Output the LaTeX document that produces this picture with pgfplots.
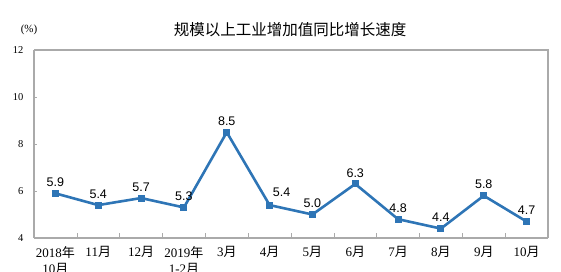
\documentclass[border=0pt]{standalone}
\usepackage{fontspec}
\setmainfont{Liberation Serif}
\newfontfamily\cjk{Noto Sans CJK SC}
\newfontfamily\arial{Liberation Sans}
\usepackage{pgfplots}
\pgfplotsset{compat=1.18}
\definecolor{lineblue}{RGB}{46,117,182}
\definecolor{framegray}{RGB}{170,170,170}
\begin{document}
\begin{tikzpicture}[x=1pt,y=1pt]
\begin{axis}[
  scale only axis,
  width=514pt, height=188pt,
  at={(0,0)}, anchor=south west,
  xmin=-0.5, xmax=11.5, ymin=4, ymax=12,
  axis line style={framegray, line width=1.2pt},
  xtick={0,...,11},
  xticklabels={2018{\cjk 年}\\10{\cjk 月}, 11{\cjk 月}, 12{\cjk 月}, 2019{\cjk 年}\\1-2{\cjk 月}, 3{\cjk 月}, 4{\cjk 月}, 5{\cjk 月}, 6{\cjk 月}, 7{\cjk 月}, 8{\cjk 月}, 9{\cjk 月}, 10{\cjk 月}},
  major x tick style={draw=none},
  minor xtick={0.5,1.5,...,10.5},
  minor tick length=5pt,
  minor x tick style={framegray, line width=0.6pt},
  xticklabel style={font=\fontsize{13}{16}\selectfont, align=center, anchor=north, yshift=-5pt},
  ytick={4,6,8,10,12},
  major y tick style={framegray, line width=0.6pt},
  major tick length=3pt,
  tick align=inside,
  yticklabel style={font=\fontsize{10.5}{12}\selectfont, xshift=-7pt},
  /pgf/number format/assume math mode=true,
  axis x line*=bottom, axis y line*=left,
  clip=false,
  every node near coord/.append style={font=\arial\fontsize{12.5}{14}\selectfont, black, anchor=south, yshift=2pt},
  point meta=explicit symbolic,
]
\addplot[color=lineblue, line width=2.6pt, mark=square*, mark size=2.2pt, mark options={solid},
  nodes near coords]
  table[meta=label] {
x y label
0 5.9 5.9
1 5.4 5.4
2 5.7 5.7
3 5.3 5.3
4 8.5 8.5
5 5.4 {}
6 5.0 5.0
7 6.3 6.3
8 4.8 4.8
9 4.4 4.4
10 5.8 5.8
11 4.7 4.7
};
\addplot[draw=none, mark=none, forget plot, nodes near coords,
  every node near coord/.append style={xshift=12pt, yshift=3pt}]
  table[meta=label] {
x y label
5 5.4 5.4
};
\end{axis}
\draw[framegray, line width=1.2pt] (0,188) -- (514,188) -- (514,0);
\node[font=\cjk\fontsize{15.5}{17}\selectfont] at (256,208) {规模以上工业增加值同比增长速度};
\node[font=\fontsize{11}{12}\selectfont] at (-5,208) {(\%)};
\pgfresetboundingbox
\path (-34,-34) rectangle (527,238);
\end{tikzpicture}
\end{document}
